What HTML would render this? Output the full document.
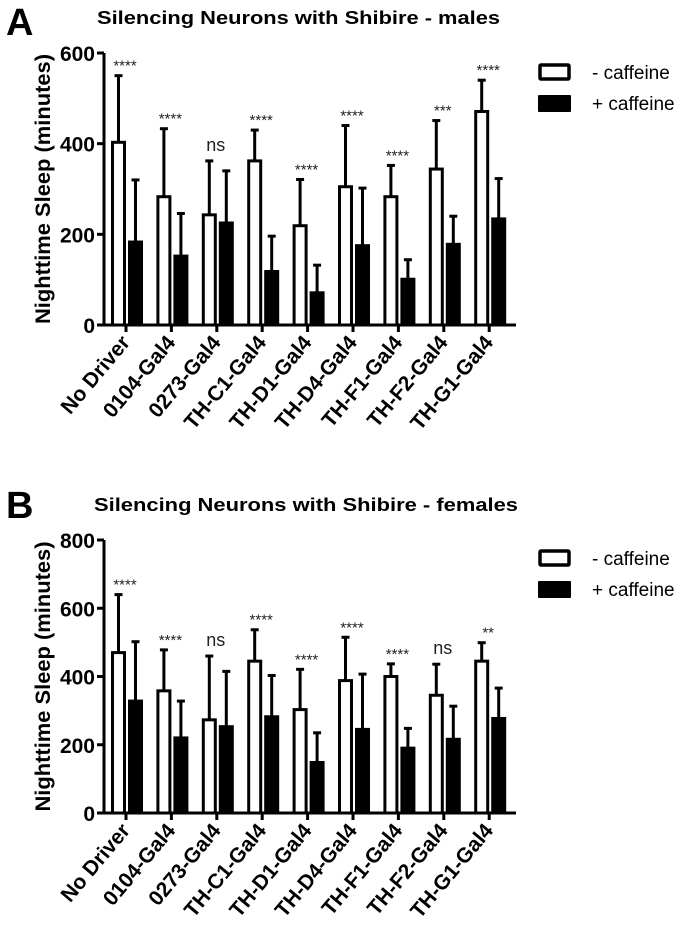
<!DOCTYPE html>
<html><head><meta charset="utf-8"><style>
html,body{margin:0;padding:0;background:#fff;}
svg text{font-family:"Liberation Sans",Arial,sans-serif;}
</style></head><body>
<svg id="fig" width="697" height="920" viewBox="0 0 697 920" xmlns="http://www.w3.org/2000/svg"></svg>
<script>
const categories = ["No Driver","0104-Gal4","0273-Gal4","TH-C1-Gal4","TH-D1-Gal4","TH-D4-Gal4","TH-F1-Gal4","TH-F2-Gal4","TH-G1-Gal4"];
const maleNoCaf = [403,283,243,362,219,305,283,344,471];
const maleNoCafErr = [550,433,362,430,321,440,352,451,540];
const maleCaf = [183,152,225,118,71,175,101,178,234];
const maleCafErr = [320,246,340,196,132,302,144,240,323];
const maleSig = ["****","****","ns","****","****","****","****","***","****"];
const maleTicks = [0,200,400,600];
const femNoCaf = [470,358,273,445,303,388,400,345,445];
const femNoCafErr = [640,478,460,537,421,515,437,436,499];
const femCaf = [328,220,253,282,148,245,190,216,277];
const femCafErr = [502,328,415,403,235,407,248,313,366];
const femSig = ["****","****","ns","****","****","****","****","ns","**"];
const femTicks = [0,200,400,600,800];

const NS="http://www.w3.org/2000/svg";
const svg=document.getElementById('fig');
function mk(tag,attrs,parent,text){const e=document.createElementNS(NS,tag);for(const k in attrs)e.setAttribute(k,attrs[k]);if(text!==undefined)e.textContent=text;(parent||svg).appendChild(e);return e;}

function panel(cfg){
  const g=mk('g',{});
  
  
  const ax=104, axEnd=516, y0=cfg.y0, yTop=cfg.yTop, ymax=cfg.ymax;
  const y=v=>y0-(v/ymax)*(y0-yTop);
  const xc=i=>126+i*45.4;
  const L=mk('text',{x:6,y:cfg.letterY,'font-size':38,'font-weight':'bold'},g,cfg.letter);
  
  
  const T=mk('text',{x:cfg.titleX,y:cfg.titleY,'font-size':18,'font-weight':'bold',textLength:cfg.titleW,lengthAdjust:'spacingAndGlyphs'},g,cfg.title);
  
  
  const yl=mk('text',{transform:`translate(50,${(y0+yTop)/2}) rotate(-90)`,'text-anchor':'middle','font-size':21,'font-weight':'bold',textLength:270,lengthAdjust:'spacingAndGlyphs'},g,'Nighttime Sleep (minutes)');
  
  
  const ya=mk('line',{x1:ax,y1:yTop,x2:ax,y2:y0+1.5,stroke:'#000','stroke-width':3},g);
  
  
  const xa=mk('line',{x1:ax-1.5,y1:y0,x2:axEnd,y2:y0,stroke:'#000','stroke-width':3},g);
  
  
  cfg.ticks.forEach(t=>{
    const tl=mk('line',{x1:ax-7,y1:y(t),x2:ax,y2:y(t),stroke:'#000','stroke-width':3},g);
    
    
    const tt=mk('text',{x:ax-9,y:y(t)+8,'text-anchor':'end','font-size':21,'font-weight':'bold'},g,String(t));
    
    
  });
  categories.forEach((c,i)=>{
    const cx=xc(i);
    const tk=mk('line',{x1:cx,y1:y0,x2:cx,y2:y0+7,stroke:'#000','stroke-width':3},g);
    
    
    const lb=mk('text',{transform:`translate(${cx+5},${y0+18}) rotate(-50)`,'text-anchor':'end','font-size':21,'font-weight':'bold'},g,c);
    
    
    const wx=cx-13.5, bx=cx+3.5, bw=12;
    const e1=mk('line',{x1:wx+bw/2,y1:y(cfg.a[i]),x2:wx+bw/2,y2:y(cfg.ae[i]),stroke:'#000','stroke-width':3},g);
    
    
    const c1=mk('line',{x1:wx+bw/2-4,y1:y(cfg.ae[i]),x2:wx+bw/2+4,y2:y(cfg.ae[i]),stroke:'#000','stroke-width':3},g);
    
    
    const r1=mk('rect',{x:wx,y:y(cfg.a[i]),width:bw,height:y0-y(cfg.a[i]),fill:'#fff',stroke:'#000','stroke-width':3},g);
    
    
    const e2=mk('line',{x1:bx+bw/2,y1:y(cfg.b[i]),x2:bx+bw/2,y2:y(cfg.be[i]),stroke:'#000','stroke-width':3},g);
    
    
    const c2=mk('line',{x1:bx+bw/2-4,y1:y(cfg.be[i]),x2:bx+bw/2+4,y2:y(cfg.be[i]),stroke:'#000','stroke-width':3},g);
    
    
    const r2=mk('rect',{x:bx-1.5,y:y(cfg.b[i])-1.5,width:bw+3,height:y0-y(cfg.b[i])+1.5,fill:'#000'},g);
    
    
    const s=cfg.sig[i];
    const top=Math.min(y(cfg.ae[i]),y(cfg.be[i]));
    const st=mk('text',{x:cx-1,y:s==='ns'?top-10:top-5,'text-anchor':'middle','font-size':s==='ns'?18:15,fill:'#222'},g,s);
    
    
  });
  const lg=mk('g',{},g);
  
  
  const l1=mk('rect',{x:540,y:cfg.legY,width:29,height:14,fill:'#fff',stroke:'#000','stroke-width':3.5,rx:1},lg);
  
  
  const t1=mk('text',{x:592,y:cfg.legY+14,'font-size':19},lg,'- caffeine');
  
  
  const l2=mk('rect',{x:538,y:cfg.legY+30,width:33,height:17,fill:'#000',rx:1},lg);
  
  
  const t2=mk('text',{x:592,y:cfg.legY+45,'font-size':19},lg,'+ caffeine');
  
  
}
panel({name:'males-chart',letter:'A',letterY:35,title:'Silencing Neurons with Shibire - males',titleX:97,titleW:403,titleY:24,y0:325,yTop:53,ymax:600,ticks:maleTicks,a:maleNoCaf,ae:maleNoCafErr,b:maleCaf,be:maleCafErr,sig:maleSig,legY:65});
panel({name:'females-chart',letter:'B',letterY:518,title:'Silencing Neurons with Shibire - females',titleX:94,titleW:424,titleY:511,y0:813,yTop:540,ymax:800,ticks:femTicks,a:femNoCaf,ae:femNoCafErr,b:femCaf,be:femCafErr,sig:femSig,legY:551});
</script>
</body></html>
